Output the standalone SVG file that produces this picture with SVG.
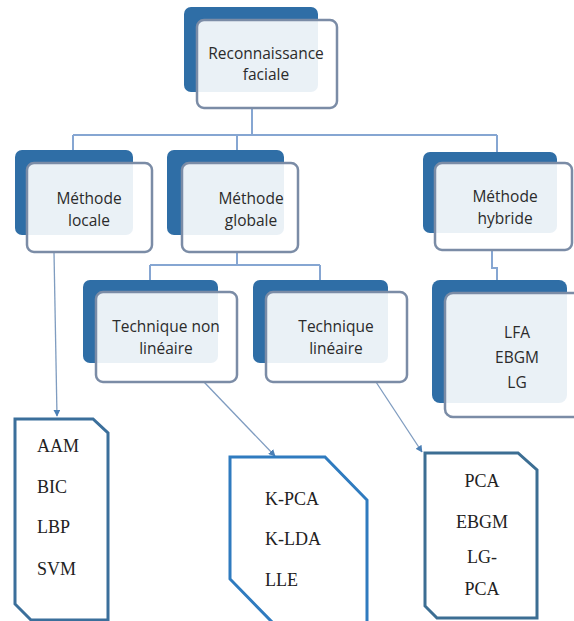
<svg xmlns="http://www.w3.org/2000/svg" width="574" height="621" viewBox="0 0 574 621">
<defs>
<style>
.back{fill:#2f6ea6;}
.front{fill:#ffffff;fill-opacity:0.9;stroke:#7b8ca6;stroke-width:2.5;}
.lbl{font-family:"Open Sans","Liberation Sans",sans-serif;font-size:15.5px;fill:#2b2b2b;text-anchor:middle;}
.conn{fill:none;stroke:#86a6d2;stroke-width:2;}
.arr{fill:none;stroke:#7f9cc0;stroke-width:1.3;}
.oct{fill:#ffffff;stroke-width:3;}
.ser{font-family:"Liberation Serif","Times New Roman",serif;font-size:18px;fill:#222;}
</style>
<marker id="ah" viewBox="0 0 10 10" refX="9" refY="5" markerWidth="7" markerHeight="7" orient="auto" markerUnits="userSpaceOnUse">
<path d="M0,0 L10,5 L0,10 z" fill="#4a7fb5"/>
</marker>
</defs>
<rect width="574" height="621" fill="#ffffff"/>

<g id="connectors">
<path class="conn" d="M252,108 V135 M73,135 H497 M73,135 V163 M237,135 V163 M497,135 V163"/>
<path class="conn" d="M237,252 V265 M150,265 H320 M150,265 V292 M320,265 V292"/>
<path class="conn" d="M492,250 V268 H497 V293"/>
<path class="arr" d="M54,252 L57,416" marker-end="url(#ah)"/>
<path class="arr" d="M204,382 L275,456" marker-end="url(#ah)"/>
<path class="arr" d="M376,382 L422,452" marker-end="url(#ah)"/>
</g>

<g id="n-root">
<rect class="back" x="184" y="7" width="134" height="85" rx="7"/>
<rect class="front" x="197" y="20" width="140" height="88" rx="7"/>
<text class="lbl" x="266" y="59">Reconnaissance</text>
<text class="lbl" x="266" y="80">faciale</text>
</g>

<g id="n-locale">
<rect class="back" x="15" y="150" width="118" height="85" rx="7"/>
<rect class="front" x="27" y="163" width="125" height="89" rx="7"/>
<text class="lbl" x="89" y="204">Méthode</text>
<text class="lbl" x="89" y="226">locale</text>
</g>

<g id="n-globale">
<rect class="back" x="167" y="150" width="117" height="85" rx="7"/>
<rect class="front" x="182" y="163" width="116" height="89" rx="7"/>
<text class="lbl" x="251" y="204">Méthode</text>
<text class="lbl" x="251" y="226">globale</text>
</g>

<g id="n-hybride">
<rect class="back" x="423" y="152" width="134" height="81" rx="7"/>
<rect class="front" x="435" y="163" width="137" height="87" rx="7"/>
<text class="lbl" x="505" y="202">Méthode</text>
<text class="lbl" x="505" y="224">hybride</text>
</g>

<g id="n-nonlin">
<rect class="back" x="83" y="280" width="135" height="83" rx="7"/>
<rect class="front" x="96" y="292" width="141" height="90" rx="7"/>
<text class="lbl" x="166" y="332">Technique non</text>
<text class="lbl" x="166" y="354">linéaire</text>
</g>

<g id="n-lin">
<rect class="back" x="253" y="280" width="135" height="83" rx="7"/>
<rect class="front" x="266" y="292" width="141" height="90" rx="7"/>
<text class="lbl" x="336" y="332">Technique</text>
<text class="lbl" x="336" y="354">linéaire</text>
</g>

<g id="n-hyb-list">
<rect class="back" x="432" y="280" width="135" height="123" rx="8"/>
<rect class="front" x="445" y="293" width="140" height="124" rx="8"/>
<text class="lbl" x="517" y="338">LFA</text>
<text class="lbl" x="517" y="363">EBGM</text>
<text class="lbl" x="517" y="388">LG</text>
</g>

<g id="n-local-list">
<path class="oct" stroke="#3b6f9b" d="M15,419 H93 L108,433 V620 H31 L15,604 Z"/>
<text class="ser" x="37" y="452">AAM</text>
<text class="ser" x="37" y="493">BIC</text>
<text class="ser" x="37" y="533">LBP</text>
<text class="ser" x="37" y="575">SVM</text>
</g>

<g id="n-nonlin-list">
<path class="oct" stroke="#2f7bbf" d="M230,457 H325 L367,500 V623 H273 L230,579 Z"/>
<text class="ser" x="265" y="505">K-PCA</text>
<text class="ser" x="265" y="545">K-LDA</text>
<text class="ser" x="265" y="586">LLE</text>
</g>

<g id="n-lin-list">
<path class="oct" stroke="#3c6e93" d="M425,453 H518 L537,470 V618 H437 L425,606 Z"/>
<text class="ser" x="482" y="487" text-anchor="middle">PCA</text>
<text class="ser" x="482" y="528" text-anchor="middle">EBGM</text>
<text class="ser" x="482" y="563" text-anchor="middle">LG-</text>
<text class="ser" x="482" y="595" text-anchor="middle">PCA</text>
</g>
</svg>
